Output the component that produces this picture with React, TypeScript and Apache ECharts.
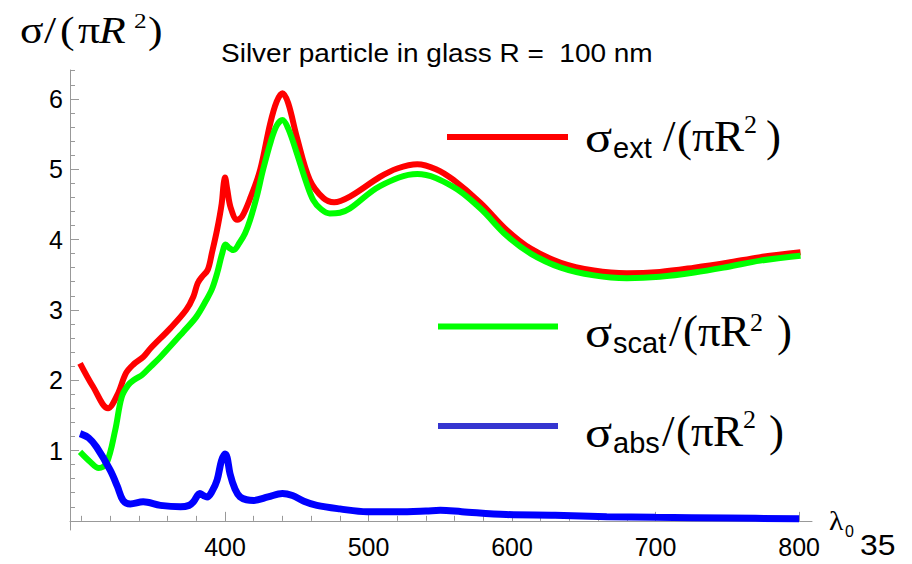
import React, { useEffect, useRef } from "react";
import * as echarts from "echarts";

// ---- data ----
const extLambda = [299, 308, 318.5, 325, 331, 336, 343, 348, 362, 373, 378, 381, 384, 388, 391, 394.5, 397.7, 399, 400, 401.5, 404, 408.5, 412, 418, 424.5, 431.5, 436, 440, 444, 450, 459, 468.5, 476, 487, 508, 520, 534, 547, 559, 578, 596, 613, 634, 657, 680, 703, 727, 750, 773, 801];
const extValues = [2.24, 1.91, 1.6, 1.79, 2.1, 2.22, 2.33, 2.45, 2.74, 3.0, 3.19, 3.38, 3.47, 3.57, 3.82, 4.14, 4.51, 4.78, 4.88, 4.72, 4.45, 4.28, 4.33, 4.61, 4.99, 5.65, 5.96, 6.08, 5.94, 5.46, 4.85, 4.59, 4.53, 4.61, 4.89, 5.01, 5.07, 5.0, 4.85, 4.52, 4.14, 3.87, 3.67, 3.56, 3.52, 3.54, 3.6, 3.67, 3.75, 3.82];

const scatLambda = [299, 306, 312, 317.5, 323.5, 328, 332.5, 337, 342, 348, 355, 371, 380, 387, 391, 394.5, 398, 400.5, 403, 406, 410, 414, 417.5, 422, 426.5, 432, 436, 440, 444, 450, 456, 461.5, 467, 473, 480, 487, 508, 534, 559, 578, 596, 613, 634, 657, 680, 703, 727, 750, 773, 801];
const scatValues = [0.98, 0.84, 0.75, 0.82, 1.29, 1.76, 1.93, 2.01, 2.07, 2.19, 2.33, 2.69, 2.9, 3.14, 3.3, 3.52, 3.8, 3.93, 3.88, 3.85, 3.95, 4.09, 4.28, 4.6, 4.99, 5.4, 5.62, 5.7, 5.58, 5.23, 4.85, 4.56, 4.43, 4.37, 4.38, 4.44, 4.76, 4.93, 4.75, 4.44, 4.06, 3.8, 3.6, 3.49, 3.45, 3.47, 3.53, 3.61, 3.7, 3.77];

const absLambda = [299, 305, 310.5, 320, 325, 329, 334, 343, 355, 369, 375, 378, 382.5, 385, 387.5, 391, 394.5, 397.5, 400, 401.5, 403.5, 407, 410.5, 415, 420, 430, 440, 447, 455, 464, 480, 499, 520, 540, 550, 565, 596, 630, 666, 700, 750, 800];
const absValues = [1.24, 1.18, 1.05, 0.72, 0.49, 0.29, 0.24, 0.27, 0.22, 0.2, 0.22, 0.27, 0.39, 0.36, 0.34, 0.42, 0.58, 0.85, 0.95, 0.9, 0.67, 0.45, 0.34, 0.3, 0.29, 0.34, 0.39, 0.36, 0.28, 0.22, 0.17, 0.13, 0.13, 0.14, 0.15, 0.13, 0.09, 0.08, 0.06, 0.05, 0.04, 0.03];

const xMajorTicks = [400, 500, 600, 700, 800];
const xMinorTicks: number[] = [];
for (let v = 300; v <= 800; v += 20) xMinorTicks.push(v);
const yMajorTicks = [1, 2, 3, 4, 5, 6];
const yMinorTicks: number[] = [];
for (let i = 1; i <= 32; i++) yMinorTicks.push(Math.round(i * 2) / 10);

const titleText = "Silver particle in glass R =  100 nm";
const pageNumber = "35";

const RED = "#ff0000";
const GREEN = "#00ff00";
const BLUE = "#0000ff";
const AXIS = "#999999";
const SERIF = "'Liberation Serif', 'Times New Roman', serif";
const SANS = "'Liberation Sans', Arial, sans-serif";

function zip(xs: number[], ys: number[]) {
  return xs.map((x, i) => [x, ys[i]]);
}

// text piece: [text, x, baseline, size, family, italic, scaleX]
type Piece = [string, number, number, number, string, boolean?, number?];
function pieces(list: Piece[], scaleAll = 1) {
  return list.map(([text, x, base, size, family, italic, sx]) => ({
    type: "text",
    x,
    y: base - 0.345 * size,
    scaleX: sx || scaleAll,
    silent: true,
    style: {
      text,
      fill: "#000",
      fontSize: size,
      fontFamily: family,
      fontStyle: italic ? "italic" : "normal",
      align: "left",
      verticalAlign: "middle",
    },
  }));
}

function legendLabel(sub: string, b: number, slashX: number, supBase: number, closeX: number) {
  return pieces([
    ["σ", 585, b, 45, SERIF, false, 1.12],
    [sub, 613, b + 6.5, 29, SANS],
    ["/", slashX, b, 45, SERIF],
    ["(", slashX + 14, b, 45, SERIF],
    ["π", slashX + 29, b, 45, SERIF],
    ["R", slashX + 51, b, 45, SERIF],
    ["2", slashX + 81, supBase, 26, SERIF],
    [")", closeX, b, 45, SERIF],
  ]);
}

export default function App() {
  const ref = useRef<HTMLDivElement>(null);
  useEffect(() => {
    if (!ref.current) return;
    const chart = echarts.init(ref.current, null, { renderer: "svg" });
    const tickLine = { color: AXIS, width: 1 };
    const labelStyle = { fontSize: 25, color: "#000", fontFamily: SANS };
    chart.setOption({
      animation: false,
      backgroundColor: "#ffffff",
      grid: { left: 70, right: 100, top: 70, bottom: 34, containLabel: false },
      xAxis: [
        {
          type: "value",
          min: 292,
          max: 809,
          position: "bottom",
          axisLine: { show: true, onZero: true, lineStyle: tickLine },
          axisTick: { show: true, inside: true, length: 9, customValues: xMajorTicks, lineStyle: tickLine },
          axisLabel: { show: true, customValues: xMajorTicks, margin: 4, ...labelStyle },
          splitLine: { show: false },
        },
        {
          type: "value",
          min: 292,
          max: 809,
          position: "bottom",
          axisLine: { show: false, onZero: true },
          axisTick: { show: true, inside: true, length: 5, customValues: xMinorTicks, lineStyle: tickLine },
          axisLabel: { show: false },
          splitLine: { show: false },
        },
      ],
      yAxis: [
        {
          type: "value",
          min: -0.13,
          max: 6.41,
          position: "left",
          axisLine: { show: true, onZero: false, lineStyle: tickLine },
          axisTick: { show: true, inside: true, length: 9, customValues: yMajorTicks, lineStyle: tickLine },
          axisLabel: { show: true, customValues: yMajorTicks, margin: 7, ...labelStyle },
          splitLine: { show: false },
        },
        {
          type: "value",
          min: -0.13,
          max: 6.41,
          position: "left",
          axisLine: { show: false, onZero: false },
          axisTick: { show: true, inside: true, length: 5, customValues: yMinorTicks, lineStyle: tickLine },
          axisLabel: { show: false },
          splitLine: { show: false },
        },
      ],
      series: [
        {
          name: "ext",
          type: "line",
          data: zip(extLambda, extValues),
          showSymbol: false,
          smooth: 0.35,
          lineStyle: { color: RED, width: 6 },
          z: 2,
        },
        {
          name: "scat",
          type: "line",
          data: zip(scatLambda, scatValues),
          showSymbol: false,
          smooth: 0.35,
          lineStyle: { color: GREEN, width: 6 },
          z: 3,
        },
        {
          name: "abs",
          type: "line",
          data: zip(absLambda, absValues),
          showSymbol: false,
          smooth: 0.35,
          lineStyle: { color: BLUE, width: 7 },
          z: 4,
        },
      ],
      graphic: [
        ...pieces([[titleText, 221, 61.7, 25, SANS]], 1.12),
        // y-axis title σ/(πR²)
        ...pieces(
          [
            ["σ", 20, 43.3, 38, SERIF],
            ["/", 44, 43.3, 38, SERIF],
            ["(", 60, 43.3, 38, SERIF],
            ["π", 78, 43.3, 38, SERIF],
            ["R", 99, 43.3, 38, SERIF, true],
            ["2", 134, 28.3, 22, SERIF],
            [")", 148, 43.3, 38, SERIF],
          ],
          1.15
        ),
        // legend lines
        { type: "line", silent: true, shape: { x1: 447, y1: 137, x2: 568, y2: 137 }, style: { stroke: RED, lineWidth: 6 } },
        { type: "line", silent: true, shape: { x1: 438, y1: 326.5, x2: 558, y2: 326.5 }, style: { stroke: GREEN, lineWidth: 6 } },
        { type: "line", silent: true, shape: { x1: 438, y1: 426, x2: 558, y2: 426 }, style: { stroke: "#3535d0", lineWidth: 6 } },
        ...legendLabel("ext", 151.7, 663, 133, 766),
        ...legendLabel("scat", 346.7, 669, 331.7, 777),
        ...legendLabel("abs", 446.7, 662, 428.3, 769),
        // x-axis label and page number
        ...pieces([
          ["λ", 829, 530, 27, SERIF, false, 1.1],
          ["0", 845, 536.7, 16, SANS],
          [pageNumber, 860, 555, 29, SANS, false, 1.1],
        ]),
      ],
    });
    return () => chart.dispose();
  }, []);
  return <div ref={ref} style={{ position: "fixed", left: 0, top: 0, width: 912, height: 564 }} />;
}
